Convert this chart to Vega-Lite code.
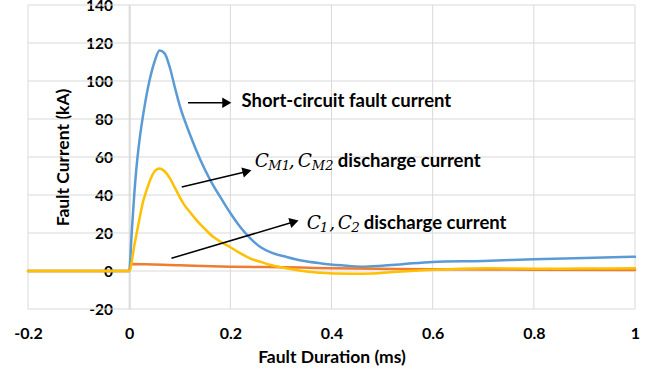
{
  "$schema": "https://vega.github.io/schema/vega-lite/v6.json",
  "width": 607,
  "height": 304,
  "autosize": {"type": "none"},
  "padding": {"left": 28, "top": 5, "right": 22, "bottom": 70},
  "background": "white",
  "config": {
    "view": {"stroke": null},
    "font": "Lato",
    "axis": {
      "grid": false, "ticks": false,
      "labelFont": "Lato", "labelFontWeight": "bold", "labelFontSize": 16, "labelColor": "#000000",
      "titleFont": "Lato", "titleFontWeight": "bold", "titleFontSize": 17.5, "titleColor": "#000000",
      "labelFlush": false, "labelOverlap": false
    }
  },
  "resolve": {"axis": {"x": "independent", "y": "independent"}},
  "datasets": {
    "ygrid": [{"v": -20}, {"v": 0}, {"v": 20}, {"v": 40}, {"v": 60}, {"v": 80}, {"v": 100}, {"v": 120}, {"v": 140}],
    "xgrid": [{"v": -0.2}, {"v": 0}, {"v": 0.2}, {"v": 0.4}, {"v": 0.6}, {"v": 0.8}, {"v": 1}],
    "curves": [
      {"t": -0.2, "i": 0, "s": "Short-circuit fault current"},
      {"t": 0, "i": 0, "s": "Short-circuit fault current"},
      {"t": 0.005, "i": 20, "s": "Short-circuit fault current"},
      {"t": 0.01, "i": 40, "s": "Short-circuit fault current"},
      {"t": 0.015, "i": 56, "s": "Short-circuit fault current"},
      {"t": 0.02, "i": 68, "s": "Short-circuit fault current"},
      {"t": 0.03, "i": 86, "s": "Short-circuit fault current"},
      {"t": 0.04, "i": 100, "s": "Short-circuit fault current"},
      {"t": 0.05, "i": 110, "s": "Short-circuit fault current"},
      {"t": 0.06, "i": 116, "s": "Short-circuit fault current"},
      {"t": 0.07, "i": 114.5, "s": "Short-circuit fault current"},
      {"t": 0.08, "i": 107.5, "s": "Short-circuit fault current"},
      {"t": 0.09, "i": 97, "s": "Short-circuit fault current"},
      {"t": 0.1, "i": 87, "s": "Short-circuit fault current"},
      {"t": 0.12, "i": 72, "s": "Short-circuit fault current"},
      {"t": 0.14, "i": 59, "s": "Short-circuit fault current"},
      {"t": 0.16, "i": 48, "s": "Short-circuit fault current"},
      {"t": 0.18, "i": 39, "s": "Short-circuit fault current"},
      {"t": 0.2, "i": 30.5, "s": "Short-circuit fault current"},
      {"t": 0.22, "i": 23, "s": "Short-circuit fault current"},
      {"t": 0.24, "i": 17, "s": "Short-circuit fault current"},
      {"t": 0.26, "i": 12.5, "s": "Short-circuit fault current"},
      {"t": 0.28, "i": 9.8, "s": "Short-circuit fault current"},
      {"t": 0.31, "i": 7.5, "s": "Short-circuit fault current"},
      {"t": 0.34, "i": 5.5, "s": "Short-circuit fault current"},
      {"t": 0.38, "i": 4, "s": "Short-circuit fault current"},
      {"t": 0.42, "i": 3, "s": "Short-circuit fault current"},
      {"t": 0.46, "i": 2.3, "s": "Short-circuit fault current"},
      {"t": 0.5, "i": 2.8, "s": "Short-circuit fault current"},
      {"t": 0.54, "i": 3.6, "s": "Short-circuit fault current"},
      {"t": 0.6, "i": 4.8, "s": "Short-circuit fault current"},
      {"t": 0.7, "i": 5.3, "s": "Short-circuit fault current"},
      {"t": 0.8, "i": 6.2, "s": "Short-circuit fault current"},
      {"t": 0.9, "i": 6.9, "s": "Short-circuit fault current"},
      {"t": 1.0, "i": 7.5, "s": "Short-circuit fault current"},
      {"t": -0.2, "i": 0, "s": "C1, C2 discharge current"},
      {"t": 0, "i": 0, "s": "C1, C2 discharge current"},
      {"t": 0.005, "i": 3.7, "s": "C1, C2 discharge current"},
      {"t": 0.1, "i": 3, "s": "C1, C2 discharge current"},
      {"t": 0.2, "i": 2.3, "s": "C1, C2 discharge current"},
      {"t": 0.34, "i": 1.8, "s": "C1, C2 discharge current"},
      {"t": 0.4, "i": 1.4, "s": "C1, C2 discharge current"},
      {"t": 0.6, "i": 0.9, "s": "C1, C2 discharge current"},
      {"t": 0.8, "i": 0.7, "s": "C1, C2 discharge current"},
      {"t": 1.0, "i": 0.5, "s": "C1, C2 discharge current"},
      {"t": -0.2, "i": 0, "s": "CM1, CM2 discharge current"},
      {"t": 0, "i": 0, "s": "CM1, CM2 discharge current"},
      {"t": 0.011, "i": 14.6, "s": "CM1, CM2 discharge current"},
      {"t": 0.02, "i": 27, "s": "CM1, CM2 discharge current"},
      {"t": 0.027, "i": 36, "s": "CM1, CM2 discharge current"},
      {"t": 0.035, "i": 43, "s": "CM1, CM2 discharge current"},
      {"t": 0.044, "i": 49.5, "s": "CM1, CM2 discharge current"},
      {"t": 0.052, "i": 53, "s": "CM1, CM2 discharge current"},
      {"t": 0.06, "i": 54, "s": "CM1, CM2 discharge current"},
      {"t": 0.07, "i": 52.5, "s": "CM1, CM2 discharge current"},
      {"t": 0.08, "i": 49, "s": "CM1, CM2 discharge current"},
      {"t": 0.09, "i": 44, "s": "CM1, CM2 discharge current"},
      {"t": 0.107, "i": 35.6, "s": "CM1, CM2 discharge current"},
      {"t": 0.12, "i": 31, "s": "CM1, CM2 discharge current"},
      {"t": 0.133, "i": 26.8, "s": "CM1, CM2 discharge current"},
      {"t": 0.15, "i": 22, "s": "CM1, CM2 discharge current"},
      {"t": 0.166, "i": 18, "s": "CM1, CM2 discharge current"},
      {"t": 0.18, "i": 15.5, "s": "CM1, CM2 discharge current"},
      {"t": 0.2, "i": 12.5, "s": "CM1, CM2 discharge current"},
      {"t": 0.22, "i": 9.3, "s": "CM1, CM2 discharge current"},
      {"t": 0.24, "i": 6.5, "s": "CM1, CM2 discharge current"},
      {"t": 0.26, "i": 4.8, "s": "CM1, CM2 discharge current"},
      {"t": 0.28, "i": 3.2, "s": "CM1, CM2 discharge current"},
      {"t": 0.3, "i": 2, "s": "CM1, CM2 discharge current"},
      {"t": 0.33, "i": 0.5, "s": "CM1, CM2 discharge current"},
      {"t": 0.37, "i": -0.8, "s": "CM1, CM2 discharge current"},
      {"t": 0.44, "i": -1.5, "s": "CM1, CM2 discharge current"},
      {"t": 0.48, "i": -1.3, "s": "CM1, CM2 discharge current"},
      {"t": 0.53, "i": -0.4, "s": "CM1, CM2 discharge current"},
      {"t": 0.63, "i": 0.9, "s": "CM1, CM2 discharge current"},
      {"t": 0.71, "i": 1.4, "s": "CM1, CM2 discharge current"},
      {"t": 0.8, "i": 1.2, "s": "CM1, CM2 discharge current"},
      {"t": 0.9, "i": 1.3, "s": "CM1, CM2 discharge current"},
      {"t": 1.0, "i": 1.4, "s": "CM1, CM2 discharge current"}
    ]
  },
  "layer": [
    {
      "data": {"name": "ygrid"},
      "mark": {"type": "rule", "color": "#D9D9D9", "strokeWidth": 1},
      "encoding": {
        "y": {"field": "v", "type": "quantitative", "axis": null}
      }
    },
    {
      "data": {"name": "xgrid"},
      "mark": {"type": "rule", "color": "#D9D9D9", "strokeWidth": 1},
      "encoding": {
        "x": {"field": "v", "type": "quantitative", "axis": null}
      }
    },
    {
      "data": {"name": "curves"},
      "mark": {"type": "line", "strokeWidth": 2.5, "strokeJoin": "round", "strokeCap": "round", "interpolate": "monotone"},
      "encoding": {
        "x": {
          "field": "t", "type": "quantitative",
          "scale": {"domain": [-0.2, 1], "nice": false, "zero": false},
          "axis": {
            "title": "Fault Duration (ms)", "values": [-0.2, 0, 0.2, 0.4, 0.6, 0.8, 1],
            "format": "~g", "labelExpr": "replace(datum.label, '−', '-')",
            "grid": false, "labelOverlap": false, "labelFlush": false,
            "domain": false, "labelPadding": 16, "titlePadding": 7
          }
        },
        "y": {
          "field": "i", "type": "quantitative",
          "scale": {"domain": [-20, 140], "nice": false, "zero": false},
          "axis": {
            "title": "Fault Current (kA)", "values": [-20, 0, 20, 40, 60, 80, 100, 120, 140],
            "labelExpr": "replace(datum.label, '−', '-')",
            "grid": false, "labelOverlap": false, "labelFlush": false, "labelFontSize": 15.5,
            "offset": -101.5, "domain": true, "domainColor": "#C8C8C8", "domainWidth": 1,
            "labelPadding": 17, "titlePadding": 13
          }
        },
        "color": {
          "field": "s", "type": "nominal", "legend": null,
          "scale": {
            "domain": ["Short-circuit fault current", "C1, C2 discharge current", "CM1, CM2 discharge current"],
            "range": ["#5B9BD5", "#ED7D31", "#FFC000"]
          }
        }
      }
    },
    {
      "data": {"values": [{}]},
      "mark": {"type": "rule", "color": "black", "strokeWidth": 1.5},
      "encoding": {
        "x": {"datum": 0.1164, "type": "quantitative", "axis": null}, "x2": {"datum": 0.193},
        "y": {"datum": 88.6, "type": "quantitative", "axis": null}, "y2": {"datum": 88.6}
      }
    },
    {
      "data": {"values": [{}]},
      "mark": {"type": "point", "shape": "triangle-right", "filled": true, "color": "black", "size": 110, "opacity": 1},
      "encoding": {
        "x": {"datum": 0.193, "type": "quantitative", "axis": null},
        "y": {"datum": 88.6, "type": "quantitative", "axis": null}
      }
    },
    {
      "data": {"values": [{}]},
      "mark": {"type": "rule", "color": "black", "strokeWidth": 1.5},
      "encoding": {
        "x": {"datum": 0.104, "type": "quantitative", "axis": null}, "x2": {"datum": 0.233},
        "y": {"datum": 44.2, "type": "quantitative", "axis": null}, "y2": {"datum": 52.4}
      }
    },
    {
      "data": {"values": [{}]},
      "mark": {"type": "point", "shape": "triangle-right", "filled": true, "color": "black", "size": 110, "opacity": 1, "angle": -13.6},
      "encoding": {
        "x": {"datum": 0.233, "type": "quantitative", "axis": null},
        "y": {"datum": 52.4, "type": "quantitative", "axis": null}
      }
    },
    {
      "data": {"values": [{}]},
      "mark": {"type": "rule", "color": "black", "strokeWidth": 1.5},
      "encoding": {
        "x": {"datum": 0.0836, "type": "quantitative", "axis": null}, "x2": {"datum": 0.3262},
        "y": {"datum": 6.7, "type": "quantitative", "axis": null}, "y2": {"datum": 25.9}
      }
    },
    {
      "data": {"values": [{}]},
      "mark": {"type": "point", "shape": "triangle-right", "filled": true, "color": "black", "size": 110, "opacity": 1, "angle": -16.6},
      "encoding": {
        "x": {"datum": 0.3262, "type": "quantitative", "axis": null},
        "y": {"datum": 25.9, "type": "quantitative", "axis": null}
      }
    },
    {
      "data": {"values": [{}]},
      "mark": {"type": "text", "font": "Lato", "fontWeight": "bold", "fontSize": 18.5, "align": "left", "baseline": "alphabetic", "color": "black"},
      "encoding": {
        "x": {"datum": 0.222, "type": "quantitative", "axis": null},
        "y": {"datum": 86.5, "type": "quantitative", "axis": null},
        "text": {"value": "Short-circuit fault current"}
      }
    },
    {
      "data": {"values": [{}]},
      "mark": {"type": "text", "font": "DejaVu Serif", "fontStyle": "italic", "fontSize": 18.5, "align": "left", "baseline": "alphabetic", "color": "black"},
      "encoding": {
        "x": {"datum": 0.2485, "type": "quantitative", "axis": null},
        "y": {"datum": 54.7, "type": "quantitative", "axis": null},
        "text": {"value": "C"}
      }
    },
    {
      "data": {"values": [{}]},
      "mark": {"type": "text", "font": "DejaVu Serif", "fontStyle": "italic", "fontSize": 13, "align": "left", "baseline": "alphabetic", "color": "black", "dx": 13.5, "dy": 3},
      "encoding": {
        "x": {"datum": 0.2485, "type": "quantitative", "axis": null},
        "y": {"datum": 54.7, "type": "quantitative", "axis": null},
        "text": {"value": "M1"}
      }
    },
    {
      "data": {"values": [{}]},
      "mark": {"type": "text", "font": "DejaVu Serif", "fontStyle": "italic", "fontSize": 18.5, "align": "left", "baseline": "alphabetic", "color": "black", "dx": 34},
      "encoding": {
        "x": {"datum": 0.2485, "type": "quantitative", "axis": null},
        "y": {"datum": 54.7, "type": "quantitative", "axis": null},
        "text": {"value": ","}
      }
    },
    {
      "data": {"values": [{}]},
      "mark": {"type": "text", "font": "DejaVu Serif", "fontStyle": "italic", "fontSize": 18.5, "align": "left", "baseline": "alphabetic", "color": "black", "dx": 43},
      "encoding": {
        "x": {"datum": 0.2485, "type": "quantitative", "axis": null},
        "y": {"datum": 54.7, "type": "quantitative", "axis": null},
        "text": {"value": "C"}
      }
    },
    {
      "data": {"values": [{}]},
      "mark": {"type": "text", "font": "DejaVu Serif", "fontStyle": "italic", "fontSize": 13, "align": "left", "baseline": "alphabetic", "color": "black", "dx": 57, "dy": 3},
      "encoding": {
        "x": {"datum": 0.2485, "type": "quantitative", "axis": null},
        "y": {"datum": 54.7, "type": "quantitative", "axis": null},
        "text": {"value": "M2"}
      }
    },
    {
      "data": {"values": [{}]},
      "mark": {"type": "text", "font": "Lato", "fontWeight": "bold", "fontSize": 18.5, "align": "left", "baseline": "alphabetic", "color": "black", "dx": 83},
      "encoding": {
        "x": {"datum": 0.2485, "type": "quantitative", "axis": null},
        "y": {"datum": 54.7, "type": "quantitative", "axis": null},
        "text": {"value": "discharge current"}
      }
    },
    {
      "data": {"values": [{}]},
      "mark": {"type": "text", "font": "DejaVu Serif", "fontStyle": "italic", "fontSize": 18.5, "align": "left", "baseline": "alphabetic", "color": "black"},
      "encoding": {
        "x": {"datum": 0.3509, "type": "quantitative", "axis": null},
        "y": {"datum": 22.1, "type": "quantitative", "axis": null},
        "text": {"value": "C"}
      }
    },
    {
      "data": {"values": [{}]},
      "mark": {"type": "text", "font": "DejaVu Serif", "fontStyle": "italic", "fontSize": 13.5, "align": "left", "baseline": "alphabetic", "color": "black", "dx": 13, "dy": 3},
      "encoding": {
        "x": {"datum": 0.3509, "type": "quantitative", "axis": null},
        "y": {"datum": 22.1, "type": "quantitative", "axis": null},
        "text": {"value": "1"}
      }
    },
    {
      "data": {"values": [{}]},
      "mark": {"type": "text", "font": "DejaVu Serif", "fontStyle": "italic", "fontSize": 18.5, "align": "left", "baseline": "alphabetic", "color": "black", "dx": 22.5},
      "encoding": {
        "x": {"datum": 0.3509, "type": "quantitative", "axis": null},
        "y": {"datum": 22.1, "type": "quantitative", "axis": null},
        "text": {"value": ","}
      }
    },
    {
      "data": {"values": [{}]},
      "mark": {"type": "text", "font": "DejaVu Serif", "fontStyle": "italic", "fontSize": 18.5, "align": "left", "baseline": "alphabetic", "color": "black", "dx": 31},
      "encoding": {
        "x": {"datum": 0.3509, "type": "quantitative", "axis": null},
        "y": {"datum": 22.1, "type": "quantitative", "axis": null},
        "text": {"value": "C"}
      }
    },
    {
      "data": {"values": [{}]},
      "mark": {"type": "text", "font": "DejaVu Serif", "fontStyle": "italic", "fontSize": 13.5, "align": "left", "baseline": "alphabetic", "color": "black", "dx": 44.5, "dy": 3},
      "encoding": {
        "x": {"datum": 0.3509, "type": "quantitative", "axis": null},
        "y": {"datum": 22.1, "type": "quantitative", "axis": null},
        "text": {"value": "2"}
      }
    },
    {
      "data": {"values": [{}]},
      "mark": {"type": "text", "font": "Lato", "fontWeight": "bold", "fontSize": 18.5, "align": "left", "baseline": "alphabetic", "color": "black", "dx": 57},
      "encoding": {
        "x": {"datum": 0.3509, "type": "quantitative", "axis": null},
        "y": {"datum": 22.1, "type": "quantitative", "axis": null},
        "text": {"value": "discharge current"}
      }
    }
  ]
}
